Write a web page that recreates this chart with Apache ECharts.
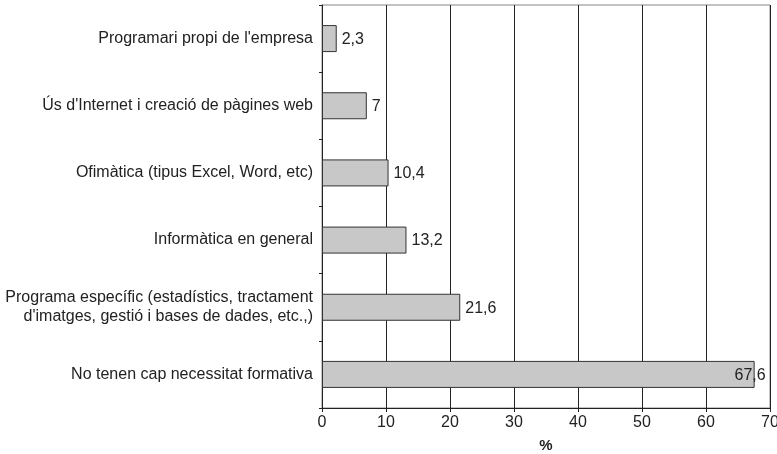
<!DOCTYPE html>
<html>
<head>
<meta charset="utf-8">
<script src="https://cdn.jsdelivr.net/npm/echarts@6/dist/echarts.min.js"></script>
<style>
  html, body { margin: 0; padding: 0; background: #fff; }
  #main { width: 777px; height: 454px; }
</style>
</head>
<body>
<div id="main"></div>
<script>
// categories from top to bottom
var categories = [
    "Programari propi de l'empresa",
    "Ús d'Internet i creació de pàgines web",
    "Ofimàtica (tipus Excel, Word, etc)",
    "Informàtica en general",
    "Programa específic (estadístics, tractament\nd'imatges, gestió i bases de dades, etc.,)",
    "No tenen cap necessitat formativa"
];
var values = [2.3, 7, 10.4, 13.2, 21.6, 67.6];
var xTicks = [0, 10, 20, 30, 40, 50, 60, 70];

var myChart = echarts.init(document.getElementById('main'));
var fontFamily = 'Liberation Sans, Arial, sans-serif';

var seriesData = values.map(function(v, i) {
    var item = { value: v };
    if (i === values.length - 1) {
        // last label sits over the bar end
        item.label = { position: 'insideRight', offset: [16, 1] };
    }
    return item;
});

var option = {
    animation: false,
    grid: {
        left: 322,
        right: 7,
        top: 5,
        bottom: 46,
        outerBoundsMode: 'none',
        containLabel: false,
        show: true,
        borderColor: '#888',
        borderWidth: 1
    },
    xAxis: {
        type: 'value',
        min: xTicks[0],
        max: xTicks[xTicks.length - 1],
        interval: 10,
        name: '%',
        nameLocation: 'middle',
        nameGap: 30,
        nameTextStyle: { fontFamily: fontFamily, fontSize: 15, fontWeight: 'bold', color: '#222' },
        axisLine: { show: true, lineStyle: { color: '#222', width: 1 } },
        axisTick: { show: true, length: 4, lineStyle: { color: '#222' } },
        axisLabel: { fontFamily: fontFamily, fontSize: 16, color: '#222', margin: 7 },
        splitLine: { show: true, lineStyle: { color: '#222', width: 1 } }
    },
    yAxis: {
        type: 'category',
        inverse: true,
        data: categories,
        axisLine: { show: true, lineStyle: { color: '#222', width: 1 } },
        axisTick: { show: true, length: 3, lineStyle: { color: '#222' } },
        axisLabel: {
            fontFamily: fontFamily, fontSize: 16, color: '#222',
            margin: 9, align: 'right', lineHeight: 19
        },
        splitLine: { show: false }
    },
    series: [{
        type: 'bar',
        data: seriesData,
        barWidth: 27,
        itemStyle: { color: '#c8c8c8', borderColor: '#333', borderWidth: 1 },
        label: {
            show: true,
            position: 'right',
            distance: 5,
            offset: [0, 1],
            fontFamily: fontFamily,
            fontSize: 16,
            color: '#222',
            formatter: function(p) { return String(p.value).replace('.', ','); }
        }
    }]
};
myChart.setOption(option);
</script>
</body>
</html>
